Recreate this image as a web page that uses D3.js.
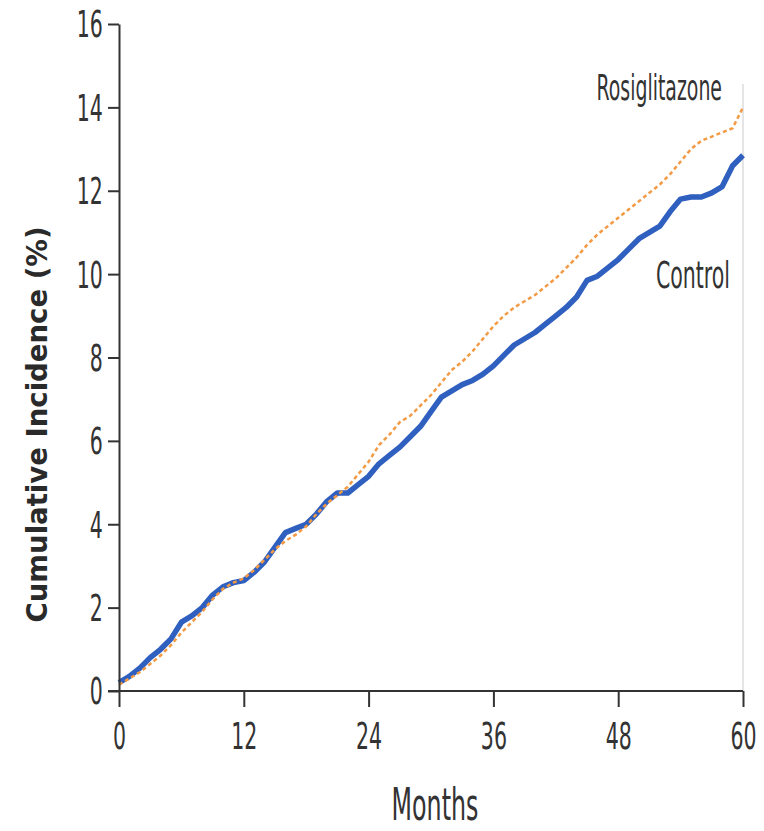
<!DOCTYPE html>
<html>
<head>
<meta charset="utf-8">
<script src="https://cdn.jsdelivr.net/npm/d3@7"></script>
<style>
  body { margin: 0; background: #fff; }
  .tick text, .lbl { font-family: "Liberation Sans Narrow", "DejaVu Sans Condensed", sans-serif; fill: #333; }
</style>
</head>
<body>
<div id="chart"></div>
<script>
var months = d3.range(0, 61);
var controlValues = [0.2,0.35,0.55,0.8,1.0,1.25,1.65,1.8,2.0,2.3,2.5,2.6,2.65,2.85,3.1,3.45,3.8,3.9,4.0,4.25,
  4.55,4.75,4.75,4.95,5.15,5.45,5.65,5.85,6.1,6.35,6.7,7.05,7.2,7.35,7.45,7.6,7.8,8.05,8.3,8.45,
  8.6,8.8,9.0,9.2,9.45,9.85,9.95,10.15,10.35,10.6,10.85,11.0,11.15,11.5,11.8,11.85,11.85,11.95,12.1,12.6,12.85];
var rosiValues = [0.15,0.3,0.45,0.65,0.85,1.1,1.4,1.65,1.9,2.2,2.45,2.6,2.7,2.9,3.15,3.4,3.6,3.75,3.95,4.25,
  4.5,4.7,4.9,5.2,5.5,5.9,6.15,6.45,6.6,6.85,7.1,7.4,7.7,7.9,8.15,8.45,8.75,9.0,9.2,9.35,
  9.5,9.7,9.9,10.15,10.4,10.7,10.95,11.15,11.35,11.55,11.75,11.95,12.15,12.4,12.7,13.0,13.2,13.3,13.4,13.5,14.0];
var xTicks = [0, 12, 24, 36, 48, 60];
var yTicks = [0, 2, 4, 6, 8, 10, 12, 14, 16];

var margin = {top: 24, right: 21, bottom: 140, left: 119},
    width = 764 - margin.left - margin.right,
    height = 831 - margin.top - margin.bottom;

var x = d3.scaleLinear().domain([0, 60]).range([0, width]);
var y = d3.scaleLinear().domain([0, 16]).range([height, 0]);

var svg = d3.select("#chart").append("svg")
    .attr("width", 764).attr("height", 831)
  .append("g")
    .attr("transform", "translate(" + margin.left + "," + margin.top + ")");

// faint right border
svg.append("line")
    .attr("x1", width).attr("x2", width).attr("y1", 60).attr("y2", height)
    .attr("stroke", "#ddd").attr("stroke-width", 1.5);

var line = d3.line()
    .x(function(d) { return x(d[0]); })
    .y(function(d) { return y(d[1]); });

var controlData = months.map(function(m, i) { return [m, controlValues[i]]; });
var rosiData = months.map(function(m, i) { return [m, rosiValues[i]]; });

svg.append("path").datum(controlData)
    .attr("d", line).attr("fill", "none")
    .attr("stroke", "#2f5fbf").attr("stroke-width", 5.5)
    .attr("stroke-linejoin", "round");

svg.append("path").datum(rosiData)
    .attr("d", line).attr("fill", "none")
    .attr("stroke", "#f39a45").attr("stroke-width", 2.5)
    .attr("stroke-dasharray", "4,3");

var yAxis = svg.append("g")
    .call(d3.axisLeft(y).tickValues(yTicks).tickSize(11).tickSizeOuter(0));
var xAxis = svg.append("g")
    .attr("transform", "translate(0," + height + ")")
    .call(d3.axisBottom(x).tickValues(xTicks).tickSize(16).tickSizeOuter(0));

[yAxis, xAxis].forEach(function(a) {
  a.select(".domain").attr("stroke", "#333").attr("stroke-width", 2);
  a.selectAll(".tick line").attr("stroke", "#333").attr("stroke-width", 2);
});
xAxis.select(".domain").attr("d", "M-11,0H" + width);

yAxis.selectAll(".tick text")
    .attr("font-size", 38).attr("x", -27).attr("dy", "0.34em")
    .attr("transform", "scale(0.6,1)");
xAxis.selectAll(".tick text")
    .attr("font-size", 38).attr("x", 0).attr("y", 0).attr("dy", "1.52em")
    .attr("transform", "scale(0.6,1)");

svg.append("text").attr("class", "lbl")
    .attr("transform", "translate(" + (width / 2 + 4) + "," + (height + 129) + ") scale(0.6,1)")
    .attr("text-anchor", "middle").attr("font-size", 44).text("Months");

svg.append("text").attr("class", "lbl")
    .attr("transform", "translate(" + (x(60) - 21) + ",76) scale(0.6,1)")
    .attr("text-anchor", "end").attr("font-size", 35).text("Rosiglitazone");

svg.append("text").attr("class", "lbl")
    .attr("transform", "translate(" + (x(60) - 13) + ",264) scale(0.6,1)")
    .attr("text-anchor", "end").attr("font-size", 38).text("Control");

svg.append("text")
    .attr("transform", "translate(" + (-72) + "," + (height / 2 + 67) + ") rotate(-90)")
    .attr("text-anchor", "middle")
    .attr("font-family", "DejaVu Sans, sans-serif").attr("font-weight", "bold")
    .attr("font-size", 29).attr("fill", "#2a2a2a")
    .attr("textLength", 396).attr("lengthAdjust", "spacingAndGlyphs")
    .text("Cumulative Incidence (%)");
</script>
</body>
</html>
